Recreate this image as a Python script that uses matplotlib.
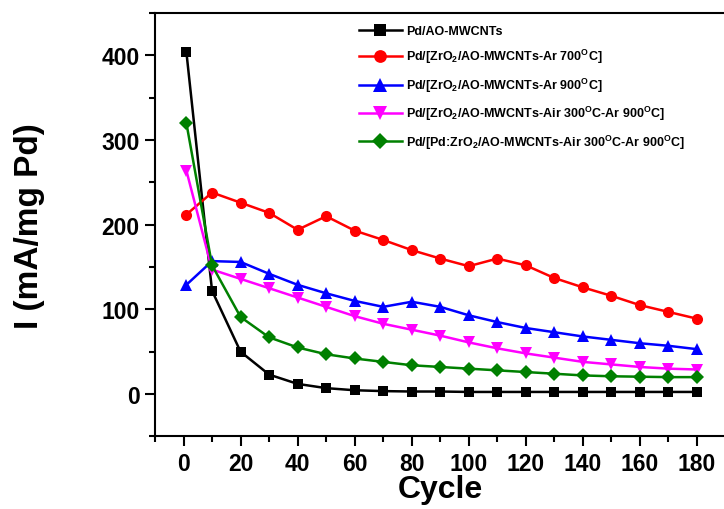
import matplotlib
matplotlib.use("Agg")
import matplotlib.pyplot as plt
from matplotlib.ticker import MultipleLocator

plt.rcParams['font.family'] = ['Liberation Sans', 'DejaVu Sans']
plt.rcParams['font.weight'] = 'bold'
plt.rcParams['mathtext.fontset'] = 'custom'
plt.rcParams['mathtext.rm'] = 'Liberation Sans:bold'
plt.rcParams['mathtext.bf'] = 'Liberation Sans:bold'
plt.rcParams['mathtext.it'] = 'Liberation Sans:bold'

cycles = [1, 10, 20, 30, 40, 50, 60, 70, 80, 90, 100, 110, 120, 130, 140, 150, 160, 170, 180]

pd_ao = [404, 122, 50, 23, 12, 7, 4.5, 3.5, 3, 3, 2.5, 2.5, 2.5, 2.5, 2.5, 2.5, 2.5, 2.5, 2.5]
zr_ar700 = [212, 238, 226, 214, 194, 210, 193, 182, 170, 160, 151, 160, 152, 137, 126, 116, 105, 97, 89]
zr_ar900 = [129, 157, 156, 142, 129, 119, 110, 103, 109, 103, 93, 85, 78, 73, 68, 64, 60, 57, 53]
zr_air_ar = [264, 147, 136, 125, 114, 103, 92, 83, 76, 69, 61, 54, 48, 43, 38, 35, 32, 30, 29]
pdzr_air_ar = [320, 152, 91, 67, 55, 47, 42, 38, 34, 32, 30, 28, 26, 24, 22, 21, 20.5, 20, 20]

labels = [
    'Pd/AO-MWCNTs',
    r'Pd/[ZrO$_\mathbf{2}$/AO-MWCNTs-Ar 700$^\mathbf{O}$C]',
    r'Pd/[ZrO$_\mathbf{2}$/AO-MWCNTs-Ar 900$^\mathbf{O}$C]',
    r'Pd/[ZrO$_\mathbf{2}$/AO-MWCNTs-Air 300$^\mathbf{O}$C-Ar 900$^\mathbf{O}$C]',
    r'Pd/[Pd:ZrO$_\mathbf{2}$/AO-MWCNTs-Air 300$^\mathbf{O}$C-Ar 900$^\mathbf{O}$C]',
]

series = [pd_ao, zr_ar700, zr_ar900, zr_air_ar, pdzr_air_ar]
colors = ['black', '#ff0000', '#0000ff', '#ff00ff', '#008000']
markers = ['s', 'o', '^', 'v', 'D']
msizes = [7, 8, 8.5, 8.5, 7]

fig = plt.figure(figsize=(7.24, 5.10), dpi=100)
ax = fig.add_axes([155 / 724, 1 - 437.4 / 510, 570.5 / 724, 423.4 / 510])

for y, c, m, ms, lab in zip(series, colors, markers, msizes, labels):
    ax.plot(cycles, y, color=c, marker=m, markersize=ms, linewidth=1.8,
            markeredgewidth=0, label=lab)

ax.set_xlim(-10, 190)
ax.set_ylim(-50, 450)
ax.xaxis.set_major_locator(MultipleLocator(20))
ax.xaxis.set_minor_locator(MultipleLocator(10))
ax.yaxis.set_major_locator(MultipleLocator(100))
ax.yaxis.set_minor_locator(MultipleLocator(50))

for side in ['left', 'bottom', 'top']:
    ax.spines[side].set_linewidth(1.5)
ax.spines['right'].set_visible(False)

ax.tick_params(which='major', direction='out', length=7, width=1.5,
               labelsize=16.5, pad=4, top=False, right=False)
ax.tick_params(which='minor', direction='out', length=4, width=1.5,
               top=False, right=False)
for t in ax.get_xticklabels() + ax.get_yticklabels():
    t.set_fontweight('bold')

ax.set_xlabel('Cycle', fontsize=23, fontweight='bold')
ax.set_ylabel('I (mA/mg Pd)', fontsize=24, fontweight='bold')
ax.xaxis.set_label_coords(0.5, -0.088)
ax.yaxis.set_label_coords(-0.193, 0.5)

ax.legend(loc='upper left', bbox_to_anchor=(359 / 724, 1 - 26 / 510),
          bbox_transform=fig.transFigure, frameon=False,
          prop={'weight': 'bold', 'size': 9}, handlelength=3.4,
          handletextpad=0.4, labelspacing=0.82, borderpad=0, borderaxespad=0,
          markerscale=1.15)

fig.savefig('out.png', dpi=100)
